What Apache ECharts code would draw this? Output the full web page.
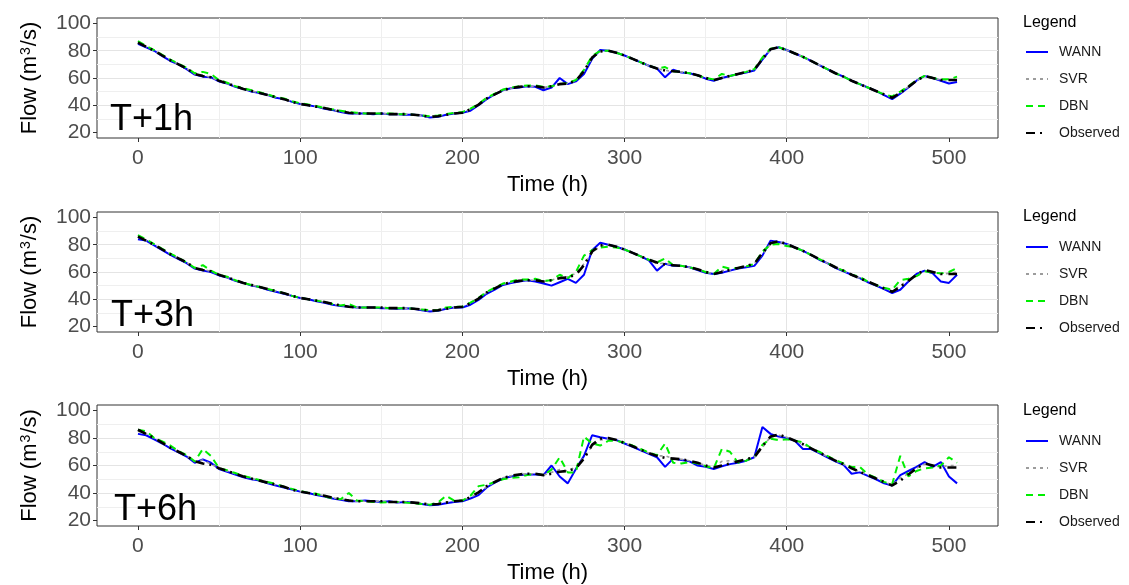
<!DOCTYPE html>
<html>
<head>
<meta charset="utf-8">
<script src="https://cdn.jsdelivr.net/npm/echarts@6/dist/echarts.min.js"></script>
<style>
  html, body { margin: 0; padding: 0; background: #fff; }
  #chart { width: 1129px; height: 585px; }
</style>
</head>
<body>
<div id="chart"></div>
<script>
// Hourly flow record (every 5 h) and model forecasts at three lead times.
const hours = [
  0, 5, 10, 15, 20, 25, 30, 35, 40, 45,
  50, 55, 60, 65, 70, 75, 80, 85, 90, 95,
  100, 105, 110, 115, 120, 125, 130, 135, 140, 145,
  150, 155, 160, 165, 170, 175, 180, 185, 190, 195,
  200, 205, 210, 215, 220, 225, 230, 235, 240, 245,
  250, 255, 260, 265, 270, 275, 280, 285, 290, 295,
  300, 305, 310, 315, 320, 325, 330, 335, 340, 345,
  350, 355, 360, 365, 370, 375, 380, 385, 390, 395,
  400, 405, 410, 415, 420, 425, 430, 435, 440, 445,
  450, 455, 460, 465, 470, 475, 480, 485, 490, 495,
  500, 505
];

const observed = [
  86, 83, 80, 76.5, 73, 70, 67, 63, 61.5, 60.5,
  58, 56, 54, 52, 50.5, 49, 47.5, 46, 44.5, 42.5,
  41, 40, 39, 38, 36.5, 35.5, 34.5, 34, 34, 34,
  34, 33.5, 33.5, 33.5, 33, 32.5, 31.5, 32, 33, 34,
  34.5, 37, 40.5, 45, 48, 51, 52.5, 53.5, 54, 54,
  53, 54, 55.5, 56, 58, 65, 75, 79.5, 80, 78.5,
  76.5, 74, 71.5, 69, 67, 65.5, 65, 64.5, 63.5, 62,
  60, 58.5, 60, 61.5, 63, 64.5, 66, 74, 81, 82.5,
  80.5, 78, 75.5, 72.5, 69.5, 66.5, 63.5, 61, 58, 55.5,
  53, 50.5, 48, 45.5, 49, 53.5, 58, 61.5, 60, 58.5,
  58.5, 58.5
];

// T+1h
const wann1 = [
  85, 82.5, 80, 76, 72.5, 70, 66.5, 62.5, 61, 60.5,
  57.5, 56, 53.5, 52, 50, 49, 47.5, 45.5, 44.5, 42.5,
  41, 40, 39, 37.5, 36.5, 35, 34, 34, 34, 33.5,
  34, 33.5, 33.5, 33, 33, 32.5, 31, 31.5, 33, 34,
  34.5, 36, 40, 44.5, 48, 51, 52.5, 53, 54, 53.5,
  51, 53, 60, 55.5, 57.5, 63, 74, 80.5, 80, 78.5,
  76.5, 74, 71.5, 69, 67, 60.5, 66, 64, 63.5, 62,
  59.5, 58, 60, 61.5, 63, 64, 65.5, 73.5, 81, 82.5,
  80.5, 78, 75.5, 72.5, 69.5, 66.5, 63.5, 61, 58, 55.5,
  53, 50.5, 47.5, 44.5, 48.5, 53, 58, 61.5, 60, 58,
  56, 57
];
const svr1 = [
  86, 83, 80, 76.5, 73, 70, 67, 63, 62, 60.5,
  58, 56, 54, 52, 50.5, 49, 47.5, 46, 44.5, 42.5,
  41, 40, 39, 38, 36.5, 35.5, 34.5, 34, 34, 34,
  34, 33.5, 33.5, 33.5, 33, 32.5, 31.5, 32, 33, 34,
  34.5, 37, 40.5, 45, 48, 51, 52.5, 53.5, 54, 54,
  53, 54, 56, 56, 58, 65, 74.5, 79.5, 80, 78.5,
  76.5, 74, 71.5, 69, 67, 65.5, 65, 64.5, 63.5, 62,
  60, 58.5, 60, 61.5, 63, 64.5, 66, 74, 81, 82.5,
  80.5, 78, 75.5, 72.5, 69.5, 66.5, 63.5, 61, 58, 55.5,
  53, 50.5, 48, 45.5, 49, 53.5, 58, 61.5, 60, 58.5,
  58.5, 58.5
];
const dbn1 = [
  87, 83.5, 80.5, 77, 73.5, 70.5, 67.5, 63.5, 64.5, 63,
  58.5, 56.5, 54, 52.5, 51, 49.5, 48, 46, 45, 43,
  41.5, 40.5, 39.5, 38, 37, 36, 35, 34.5, 34, 34,
  34, 34, 33.5, 33.5, 33, 32.5, 32, 32.5, 33.5, 34.5,
  35, 37.5, 41, 45.5, 48.5, 51.5, 53, 54, 54.5, 54.5,
  53.5, 54, 55.5, 56.5, 58.5, 66, 76, 80, 80, 78.5,
  76.5, 74, 71.5, 69, 67, 68, 65, 64.5, 63.5, 62,
  60, 59, 63, 61.5, 63, 64.5, 66.5, 75, 81.5, 82.5,
  80.5, 78, 75.5, 72.5, 69.5, 66.5, 63.5, 61, 58, 55.5,
  53, 50.5, 48, 46.5, 50, 54, 58.5, 61.5, 60, 59,
  59, 61
];

// T+3h
const wann3 = [
  84, 83, 79.5, 76, 72.5, 69.5, 66.5, 62.5, 61, 60,
  57.5, 56, 53.5, 52, 50, 49, 47, 45.5, 44, 42.5,
  41, 40, 38.5, 37.5, 36, 35, 34.5, 34, 34, 34,
  33.5, 33.5, 33, 33.5, 33, 32, 31, 31.5, 33, 34,
  34, 36, 39.5, 44, 47, 50.5, 52, 53, 54, 53,
  51.5, 50, 52.5, 55, 52, 58, 76, 81.5, 80, 78.5,
  76.5, 74, 71.5, 68.5, 61, 66, 64.5, 64.5, 63.5, 61.5,
  59.5, 58.5, 59.5, 61, 62.5, 63.5, 64.5, 72, 83, 82,
  80.5, 78, 75.5, 72.5, 69, 66.5, 63, 60.5, 58, 55.5,
  52.5, 50, 47.5, 44.5, 47, 53, 58.5, 61, 59, 53,
  52, 58
];
const svr3 = [
  86, 83, 80, 76.5, 73, 70, 67, 63, 62, 60.5,
  58, 56, 54, 52, 50.5, 49, 47.5, 46, 44.5, 42.5,
  41, 40, 39, 38, 36.5, 35.5, 34.5, 34, 34, 34,
  34, 33.5, 33.5, 33.5, 33, 32.5, 31.5, 32, 33, 34,
  34.5, 37, 40.5, 45, 48, 51, 52.5, 53.5, 54, 54,
  53, 54, 56, 56.5, 59, 66, 74, 79, 80, 78.5,
  76.5, 74, 71.5, 69, 66, 66.5, 65, 64.5, 63.5, 62,
  60, 58.5, 61, 61.5, 63, 64.5, 66, 73, 80.5, 82,
  80.5, 78, 75.5, 72.5, 69.5, 66.5, 63.5, 61, 58, 55.5,
  53, 50.5, 48, 46, 50, 54, 58, 61, 60, 58.5,
  59, 60
];
const dbn3 = [
  87, 84, 80.5, 77, 73.5, 70.5, 67, 63, 65, 61,
  58, 56.5, 54, 52, 50.5, 49, 47.5, 46, 44.5, 42.5,
  41, 40, 39, 38, 36.5, 35.5, 36.5, 34, 34, 34,
  34, 33.5, 33.5, 33.5, 33, 32.5, 32, 32, 34, 34.5,
  34.5, 37.5, 41, 45.5, 48.5, 51.5, 53, 54.5, 54.5, 55,
  53.5, 54, 58, 55.5, 60, 72, 76, 78, 78.5, 78,
  76.5, 74, 71.5, 69, 67, 70, 65, 64.5, 63.5, 62,
  60, 58.5, 64, 62.5, 63, 64, 66, 75, 80, 80.5,
  79, 78, 75.5, 72.5, 69.5, 66.5, 63.5, 61, 58, 56.5,
  53, 50.5, 48.5, 47, 54, 55, 57, 60.5, 59.5, 59,
  60, 63
];

// T+6h
const wann6 = [
  83, 82, 79, 76, 72.5, 69.5, 66.5, 62, 64.5, 62,
  57.5, 55.5, 53.5, 51.5, 50, 49, 47, 45.5, 44, 42.5,
  41, 40, 38.5, 37.5, 36, 35, 34, 34, 34.5, 34,
  33.5, 34, 33, 33.5, 33, 32, 31, 31.5, 32.5, 33.5,
  34, 36, 38.5, 44, 47.5, 50.5, 52, 53, 53.5, 53.5,
  53, 60, 52, 47, 57.5, 67, 82, 80.5, 79.5, 78.5,
  76, 73.5, 71, 68.5, 66, 59, 65, 64, 63, 60,
  59, 57.5, 59.5, 61, 62, 63.5, 66, 88, 83, 81,
  80, 78, 72, 72, 69, 66, 63, 60.5, 54, 55,
  52.5, 50, 47, 45.5, 53, 56, 59, 62.5, 59, 62.5,
  52, 47
];
const svr6 = [
  85, 83, 80, 76.5, 73, 70, 67, 63, 64, 61,
  58, 56, 54, 52, 50.5, 49, 47.5, 46, 44.5, 42.5,
  41, 40, 39, 38, 36.5, 35.5, 35, 34, 34, 34,
  34, 33.5, 33.5, 33.5, 33, 32.5, 32, 32.5, 33.5, 34,
  34.5, 37, 40, 44.5, 48, 51, 52.5, 53.5, 54, 54,
  53, 55, 57, 56, 59, 66, 74, 78.5, 79.5, 78.5,
  76.5, 74, 71.5, 69, 67, 67, 65, 64.5, 63.5, 62,
  60, 59, 63, 63.5, 63, 64.5, 66, 73, 81, 82,
  80.5, 78, 75.5, 72.5, 69.5, 66.5, 63.5, 61, 58, 55.5,
  53, 50.5, 48, 46, 51, 54, 58, 61, 60, 59,
  60, 60
];
const dbn6 = [
  86, 85, 80, 77.5, 74.5, 70.5, 67.5, 63, 72, 67,
  58, 56.5, 54.5, 52.5, 51, 49.5, 48, 46.5, 44.5, 43,
  41.5, 40, 39.5, 37.5, 36, 35.5, 40, 34.5, 34, 33.5,
  33, 33.5, 33.5, 33, 32.5, 32, 31.5, 33, 38, 34.5,
  34.5, 38, 45, 46, 48, 50, 51, 51.5, 53, 54,
  53, 57, 66, 55, 55, 81, 76, 74.5, 78, 78,
  76.5, 74.5, 72, 69.5, 67.5, 76, 62, 61.5, 62.5, 61.5,
  59.5, 58, 72, 70, 62, 63.5, 66, 75, 79.5, 78.5,
  79, 78, 77, 72.5, 70, 67, 64, 61.5, 59, 59,
  53.5, 51, 48, 46.5, 67, 52, 56, 58, 58.5, 60,
  66, 62
];

const panelTags = ['T+1h', 'T+3h', 'T+6h'];
const modelNames = ['WANN', 'SVR', 'DBN', 'Observed'];
const panelValues = [
  [wann1, svr1, dbn1, observed],
  [wann3, svr3, dbn3, observed],
  [wann6, svr6, dbn6, observed]
];
const xTicks = [0, 100, 200, 300, 400, 500];
const yTicks = [20, 40, 60, 80, 100];
const xMinor = [50, 150, 250, 350, 450];
const yMinor = [30, 50, 70, 90];

// ---- layout and styling ----
const FONT = '"Liberation Sans", Arial, Helvetica, sans-serif';
const gridTop = [18, 212, 405];
const gridHeight = [120, 120, 121];
const tagPos = [[110, 120], [111, 316], [114, 510]];
const legendTitleY = [23, 217, 411];
const legendTop = [45, 240, 434];

const lineLook = {
  WANN:     { color: '#0000ff', width: 2,   type: 'solid' },
  SVR:      { color: '#9c9c9c', width: 1.6, type: [3, 4] },
  DBN:      { color: '#00ee00', width: 2,   type: [7, 5] },
  Observed: { color: '#000000', width: 2.6, type: [9, 5, 2, 6] }
};

const grids = [], xAxes = [], yAxes = [], series = [], legends = [], graphics = [];

panelTags.forEach((tag, p) => {
  grids.push({
    left: 97, top: gridTop[p], width: 901, height: gridHeight[p],
    show: true, borderColor: '#333', borderWidth: 1, backgroundColor: '#fff'
  });

  xAxes.push({
    type: 'value', gridIndex: p, min: -25.25, max: 530.25,
    name: 'Time (h)', nameLocation: 'middle', nameGap: 36,
    nameTextStyle: { fontSize: 22, color: '#000', fontFamily: FONT },
    axisLine: { show: false, onZero: false },
    axisTick: { show: true, length: 4, lineStyle: { color: '#333' }, customValues: xTicks },
    axisLabel: { fontSize: 21, color: '#4d4d4d', fontFamily: FONT, margin: 10, customValues: xTicks },
    splitLine: { show: true, showMinLine: false, showMaxLine: false,
                 lineStyle: { color: '#e4e4e4', width: 1 } }
  });

  yAxes.push({
    type: 'value', gridIndex: p, min: 16, max: 104,
    name: 'Flow (m{sup|3}/s)', nameLocation: 'middle', nameGap: 56,
    nameTextStyle: {
      fontSize: 22, color: '#000', fontFamily: FONT,
      rich: { sup: { fontSize: 14, fontFamily: FONT, color: '#000', verticalAlign: 'top', padding: [0, 1, 0, 1] } }
    },
    axisLine: { show: false, onZero: false },
    axisTick: { show: true, length: 4, lineStyle: { color: '#333' }, customValues: yTicks },
    axisLabel: { fontSize: 21, color: '#4d4d4d', fontFamily: FONT, margin: 6, customValues: yTicks },
    splitLine: { show: true, showMinLine: false, showMaxLine: false,
                 lineStyle: { color: '#e4e4e4', width: 1 } }
  });

  // minor grid lines, placed through the panel's own scales
  series.push({
    type: 'line', name: 'minor-grid-' + p, xAxisIndex: p, yAxisIndex: p,
    data: [], silent: true, animation: false,
    markLine: {
      silent: true, animation: false, z: 1, symbol: ['none', 'none'],
      label: { show: false },
      lineStyle: { color: '#efefef', width: 1, type: 'solid' },
      emphasis: { disabled: true },
      data: xMinor.map(v => ({ xAxis: v })).concat(yMinor.map(v => ({ yAxis: v })))
    }
  });

  modelNames.forEach((name, m) => {
    const vals = panelValues[p][m];
    const look = lineLook[name];
    series.push({
      type: 'line', name, xAxisIndex: p, yAxisIndex: p,
      data: hours.map((h, k) => [h, vals[k]]),
      symbol: 'none', silent: true, animation: false, z: 3 + m,
      lineStyle: { color: look.color, width: look.width, type: look.type },
      itemStyle: { color: look.color }
    });
  });

  legends.push({
    orient: 'vertical', left: 1025, top: legendTop[p], padding: 0,
    itemWidth: 22, itemHeight: 14, itemGap: 13, selectedMode: false,
    data: modelNames,
    itemStyle: { opacity: 0, borderWidth: 0 },
    textStyle: { fontSize: 14, color: '#1a1a1a', fontFamily: FONT, padding: [0, 0, 0, 6] }
  });

  graphics.push({
    type: 'text', x: tagPos[p][0], y: tagPos[p][1], z: 10,
    style: { text: tag, font: '36px ' + FONT, fill: '#000', align: 'left', verticalAlign: 'middle' }
  });
  graphics.push({
    type: 'text', x: 1023, y: legendTitleY[p], z: 10,
    style: { text: 'Legend', font: '16px ' + FONT, fill: '#000', align: 'left', verticalAlign: 'middle' }
  });
});

const chart = echarts.init(document.getElementById('chart'), null, { renderer: 'canvas' });
chart.setOption({
  animation: false,
  backgroundColor: '#fff',
  grid: grids,
  xAxis: xAxes,
  yAxis: yAxes,
  legend: legends,
  series,
  graphic: graphics
});
</script>
</body>
</html>
